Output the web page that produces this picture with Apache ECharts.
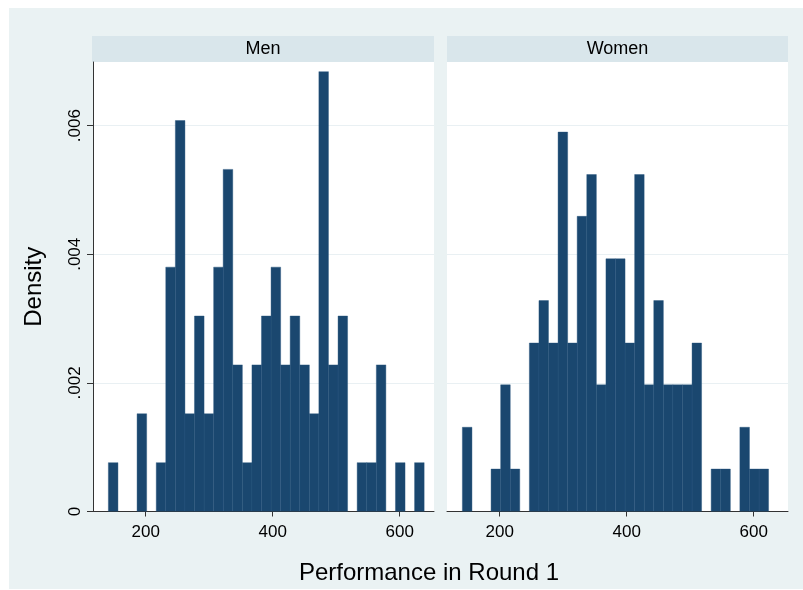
<!DOCTYPE html>
<html>
<head>
<meta charset="utf-8">
<script src="https://cdn.jsdelivr.net/npm/echarts@6/dist/echarts.min.js"></script>
<style>
  html, body { margin: 0; padding: 0; background: #ffffff; }
  #chart { width: 803px; height: 590px; }
</style>
</head>
<body>
<div id="chart"></div>
<script>
// Bin edges (Performance in Round 1), shared by both panels
const binEdges = [141.2, 156.3, 171.3, 186.4, 201.5, 216.6, 231.6, 246.7, 261.8, 276.8,
  291.9, 307.0, 322.0, 337.1, 352.2, 367.3, 382.3, 397.4, 412.5, 427.5,
  442.6, 457.7, 472.7, 487.8, 502.9, 517.9, 533.0, 548.1, 563.2, 578.2,
  593.3, 608.4, 623.4, 638.5];

// Densities per bin
const menDensity = [0.00076, 0, 0, 0.00152, 0, 0.00076, 0.0038, 0.00608, 0.00152, 0.00304,
  0.00152, 0.0038, 0.00532, 0.00228, 0.00076, 0.00228, 0.00304, 0.0038, 0.00228, 0.00304,
  0.00228, 0.00152, 0.00684, 0.00228, 0.00304, 0, 0.00076, 0.00076, 0.00228, 0,
  0.00076, 0, 0.00076];

const womenDensity = [0.00131, 0, 0, 0.00066, 0.00197, 0.00066, 0, 0.00262, 0.00328, 0.00262,
  0.0059, 0.00262, 0.00459, 0.00524, 0.00197, 0.00393, 0.00393, 0.00262, 0.00524, 0.00197,
  0.00328, 0.00197, 0.00197, 0.00197, 0.00262, 0, 0.00066, 0.00066, 0, 0.00131,
  0.00066, 0.00066];

const panelNames = ['Men', 'Women'];
const xTickValues = [200, 400, 600];
const yTickValues = [0, 0.002, 0.004, 0.006];
const xTitle = 'Performance in Round 1';
const yTitle = 'Density';

const FONT = '"Liberation Sans", Arial, Helvetica, sans-serif';
const BAR = '#1a476f';
const BG = '#eaf2f3';
const STRIP = '#d9e6eb';
const GRIDLINE = '#e9f0f3';
const AXIS = '#333333';

function binData(dens) {
  return dens.map((d, i) => [binEdges[i], binEdges[i + 1], d]);
}

function renderBar(params, api) {
  const x0 = api.value(0), x1 = api.value(1), y = api.value(2);
  if (!y) return null;
  const p0 = api.coord([x0, y]);
  const p1 = api.coord([x1, 0]);
  return {
    type: 'rect',
    shape: { x: p0[0], y: p0[1], width: p1[0] - p0[0], height: p1[1] - p0[1] },
    style: { fill: BAR, stroke: '#24527c', lineWidth: 0.4 }
  };
}

const grids = [
  { left: 93, top: 62, width: 341, height: 449.5 },
  { left: 447, top: 62, width: 341, height: 449.5 }
];

function xAxisFor(i) {
  return {
    type: 'value', gridIndex: i, min: 117, max: 654,
    axisLine: { show: true, onZero: false, lineStyle: { color: AXIS, width: 1 } },
    axisTick: { show: true, length: 5, customValues: xTickValues, lineStyle: { color: AXIS } },
    axisLabel: { customValues: xTickValues, color: '#000', fontSize: 17, fontFamily: FONT, margin: 12 },
    splitLine: { show: false }
  };
}

function yAxisFor(i) {
  const isLeft = i === 0;
  return {
    type: 'value', gridIndex: i, min: 0, max: 0.00699,
    axisLine: { show: isLeft, lineStyle: { color: AXIS, width: 1 } },
    axisTick: { show: isLeft, length: 6, customValues: yTickValues, lineStyle: { color: AXIS } },
    axisLabel: {
      show: isLeft, customValues: yTickValues, rotate: 90, color: '#000', fontSize: 17, fontFamily: FONT, margin: 9,
      formatter: v => (v === 0 ? '0' : String(+v.toFixed(4)).replace(/^0/, ''))
    },
    splitLine: { show: true, lineStyle: { color: GRIDLINE, width: 1.2 } },
    name: isLeft ? yTitle : '',
    nameLocation: 'middle', nameRotate: 90, nameGap: 47,
    nameTextStyle: { color: '#000', fontSize: 24, fontFamily: FONT }
  };
}

const chart = echarts.init(document.getElementById('chart'), null, { renderer: 'canvas' });
chart.setOption({
  animation: false,
  backgroundColor: '#ffffff',
  title: {
    text: xTitle, left: 424, top: 556, textAlign: 'center',
    textStyle: { color: '#000', fontSize: 24, fontWeight: 'normal', fontFamily: FONT }
  },
  graphic: [
    { type: 'rect', z: -10, shape: { x: 9, y: 8, width: 794, height: 581 }, style: { fill: BG } },
    { type: 'rect', z: -5, shape: { x: 92, y: 36, width: 342, height: 26 }, style: { fill: STRIP } },
    { type: 'rect', z: -5, shape: { x: 447, y: 36, width: 341, height: 26 }, style: { fill: STRIP } },
    { type: 'text', z: 5, x: 263, y: 49, style: { text: panelNames[0], fill: '#000', font: '18px ' + FONT, textAlign: 'center', textVerticalAlign: 'middle' } },
    { type: 'text', z: 5, x: 617.5, y: 49, style: { text: panelNames[1], fill: '#000', font: '18px ' + FONT, textAlign: 'center', textVerticalAlign: 'middle' } }
  ],
  grid: grids.map(g => Object.assign({ show: true, backgroundColor: '#ffffff', borderWidth: 0 }, g)),
  xAxis: [xAxisFor(0), xAxisFor(1)],
  yAxis: [yAxisFor(0), yAxisFor(1)],
  series: [
    { type: 'custom', name: panelNames[0], xAxisIndex: 0, yAxisIndex: 0, renderItem: renderBar,
      encode: { x: [0, 1], y: 2 }, data: binData(menDensity), clip: true },
    { type: 'custom', name: panelNames[1], xAxisIndex: 1, yAxisIndex: 1, renderItem: renderBar,
      encode: { x: [0, 1], y: 2 }, data: binData(womenDensity), clip: true }
  ]
});
</script>
</body>
</html>
